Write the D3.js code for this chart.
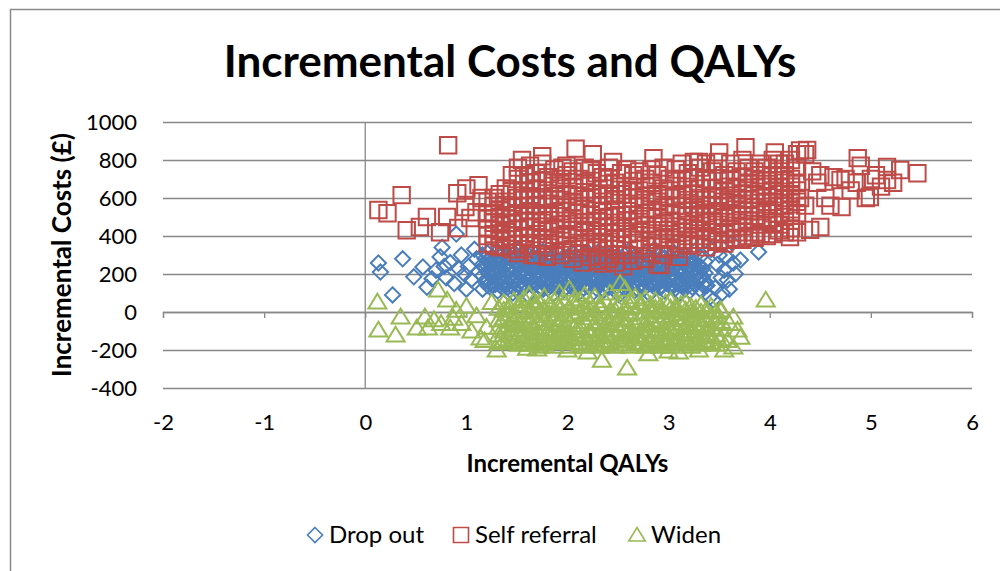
<!DOCTYPE html>
<html>
<head>
<meta charset="utf-8">
<style>
  body { margin: 0; background: #fff; }
  text { font-family: Lato, "Open Sans", sans-serif; fill: #000; }
  .grid line { stroke: #888; stroke-width: 1.3; }
  .grid path { display: none; }
  .grid text { font-size: 22px; }
  .xlab path, .xlab line { display: none; }
  .xlab text { font-size: 22px; }
  .zero path, .zero line { stroke: #888; stroke-width: 1.3; }
</style>
</head>
<body>
<svg id="chart"></svg>
<script src="https://d3js.org/d3.v7.min.js"></script>
<script>
// axis ticks
var xTicks = [-2, -1, 0, 1, 2, 3, 4, 5, 6]
var yTicks = [-400, -200, 0, 200, 400, 600, 800, 1000]
var seriesNames = ["Drop out", "Self referral", "Widen"]

// each row: x, then one or more y values
var dropOut = [
  [0.13, 258], [0.15, 210], [0.27, 90], [0.37, 280], [0.48, 185], [0.57, 237], [0.61, 130],
  [0.66, 175], [0.7, 220], [0.74, 290], [0.76, 340], [0.78, 240], [0.8, 180], [0.84, 260],
  [0.88, 150], [0.9, 410], [0.92, 230], [0.95, 300], [0.98, 200], [1.0, 120], [1.02, 240],
  [1.05, 170], [1.08, 330], [1.1, 280], [1.12, 210],
  [1.16, 250, 190, 120, 300],
  [1.185, 230, 160, 280],
  [1.21, 310, 210, 160, 270, 140],
  [1.235, 195, 250, 130],
  [1.26, 230, 140, 290, 190, 255],
  [1.285, 270, 145, 215],
  [1.31, 260, 175, 110, 320, 220, 150],
  [1.335, 180, 230, 290],
  [1.36, 200, 280, 150, 240, 125, 305],
  [1.385, 245, 160, 200],
  [1.41, 300, 130, 215, 255, 180, 105],
  [1.435, 140, 225, 285],
  [1.46, 165, 235, 100, 275, 205, 320],
  [1.485, 260, 190, 120],
  [1.51, 290, 205, 145, 250, 330, 175],
  [1.535, 215, 275, 160],
  [1.56, 185, 120, 265, 225, 300, 150],
  [1.585, 135, 245, 195],
  [1.61, 240, 160, 300, 200, 90, 270],
  [1.635, 280, 180, 225],
  [1.66, 275, 190, 135, 315, 225, 160],
  [1.685, 205, 150, 260],
  [1.71, 215, 255, 110, 170, 290, 240],
  [1.735, 240, 125, 185],
  [1.76, 195, 240, 150, 320, 265, 120],
  [1.785, 160, 215, 280],
  [1.81, 265, 180, 125, 230, 300, 205],
  [1.835, 235, 140, 195],
  [1.86, 210, 160, 280, 95, 245, 185],
  [1.885, 270, 210, 130],
  [1.91, 245, 190, 135, 310, 225, 270],
  [1.935, 150, 240, 185],
  [1.96, 170, 270, 205, 115, 290, 235],
  [1.985, 225, 130, 265],
  [2.01, 295, 230, 150, 185, 335, 260],
  [2.035, 180, 275, 215],
  [2.06, 260, 200, 120, 175, 305, 235],
  [2.085, 245, 160, 135],
  [2.11, 220, 285, 140, 245, 100, 190],
  [2.135, 200, 265, 150],
  [2.16, 190, 305, 165, 230, 265, 125],
  [2.185, 140, 215, 280],
  [2.21, 270, 210, 130, 180, 250, 310],
  [2.235, 255, 175, 220],
  [2.26, 155, 235, 290, 105, 200, 265],
  [2.285, 185, 240, 125],
  [2.31, 200, 260, 145, 320, 180, 230],
  [2.335, 270, 155, 205],
  [2.36, 240, 170, 115, 280, 215, 300],
  [2.385, 135, 230, 180],
  [2.41, 215, 295, 160, 190, 130, 255],
  [2.435, 205, 265, 150],
  [2.46, 250, 185, 230, 310, 145, 275],
  [2.485, 280, 195, 135],
  [2.51, 170, 265, 120, 210, 90, 240],
  [2.535, 160, 245, 215],
  [2.56, 300, 225, 150, 195, 260, 125],
  [2.585, 230, 175, 270],
  [2.61, 240, 180, 275, 135, 325, 210],
  [2.635, 150, 205, 250],
  [2.66, 205, 160, 255, 110, 290, 230],
  [2.685, 265, 125, 230],
  [2.71, 285, 220, 190, 140, 250, 170],
  [2.735, 190, 255, 150],
  [2.76, 175, 235, 305, 125, 265, 200],
  [2.785, 240, 170, 210],
  [2.81, 260, 200, 150, 290, 95, 230],
  [2.835, 145, 275, 190],
  [2.86, 215, 170, 245, 330, 130, 280],
  [2.885, 215, 160, 255],
  [2.91, 185, 270, 130, 230, 300, 155],
  [2.935, 180, 235, 135],
  [2.96, 250, 160, 205, 110, 285, 225],
  [2.985, 270, 150, 210],
  [3.01, 290, 225, 175, 140, 260, 195],
  [3.035, 230, 185, 130],
  [3.06, 195, 245, 310, 120, 270, 165],
  [3.085, 150, 215, 285],
  [3.11, 270, 215, 160, 100, 235, 300],
  [3.135, 260, 195, 140],
  [3.16, 180, 250, 295, 140, 215, 120],
  [3.185, 185, 240, 155],
  [3.21, 230, 165, 205, 275, 110, 250],
  [3.235, 215, 130, 270],
  [3.26, 190, 260, 145, 320, 225],
  [3.285, 165, 250, 200],
  [3.31, 240, 175, 215, 120, 290],
  [3.335, 230, 185, 145],
  [3.36, 205, 160, 265, 135],
  [3.38, 140], [3.41, 79], [3.42, 330], [3.44, 63], [3.46, 126], [3.48, 250], [3.5, 300],
  [3.52, 180], [3.53, 100], [3.55, 220], [3.57, 290], [3.58, 168], [3.6, 120], [3.63, 363],
  [3.64, 258], [3.66, 200], [3.71, 274], [3.89, 316]
]

var selfReferral = [
  [0.13, 537], [0.22, 520], [0.36, 615], [0.41, 430], [0.54, 447], [0.61, 500], [0.74, 420],
  [0.81, 500], [0.82, 878], [0.91, 625], [0.92, 442], [0.99, 553], [1.0, 650], [1.04, 495],
  [1.1, 525], [1.12, 668], [1.15, 600],
  [1.21, 360, 520, 440, 580, 400, 490],
  [1.27, 470, 350, 560, 410, 600, 520],
  [1.33, 390, 540, 460, 340, 500, 620, 430],
  [1.39, 580, 420, 350, 510, 470, 650, 380],
  [1.45, 330, 470, 640, 400, 550, 720, 490],
  [1.51, 700, 360, 520, 440, 600, 310, 760],
  [1.57, 480, 640, 330, 560, 400, 720, 590],
  [1.63, 350, 610, 450, 770, 530, 680, 390],
  [1.69, 560, 410, 730, 300, 480, 650, 600],
  [1.75, 430, 690, 520, 360, 780, 590, 470],
  [1.81, 640, 340, 570, 450, 710, 390, 510],
  [1.87, 380, 520, 750, 610, 440, 320, 680],
  [1.93, 590, 460, 300, 700, 530, 650, 400],
  [1.99, 720, 410, 550, 350, 620, 480, 770],
  [2.05, 330, 660, 490, 580, 280, 740, 430],
  [2.11, 520, 390, 700, 450, 610, 310, 560],
  [2.17, 680, 470, 360, 760, 540, 420, 630],
  [2.23, 290, 600, 510, 430, 690, 370, 750],
  [2.29, 560, 730, 340, 480, 620, 270, 410],
  [2.35, 450, 360, 650, 530, 710, 580, 300],
  [2.41, 700, 500, 420, 280, 610, 760, 370],
  [2.47, 330, 590, 470, 680, 390, 540, 260],
  [2.53, 620, 440, 730, 350, 510, 660, 300],
  [2.59, 480, 300, 570, 750, 410, 640, 530],
  [2.65, 380, 690, 510, 450, 270, 600, 720],
  [2.71, 560, 420, 640, 330, 740, 490, 380],
  [2.77, 700, 350, 460, 590, 520, 280, 660],
  [2.83, 430, 610, 310, 680, 540, 400, 750],
  [2.89, 250, 500, 720, 380, 620, 450, 580],
  [2.95, 650, 390, 550, 470, 300, 760, 430],
  [3.01, 520, 700, 340, 600, 410, 640, 480],
  [3.07, 380, 560, 750, 450, 690, 330, 610],
  [3.13, 620, 420, 510, 780, 360, 560, 700],
  [3.19, 460, 660, 350, 590, 730, 400, 530],
  [3.25, 710, 380, 620, 480, 550, 790, 440],
  [3.31, 540, 760, 430, 360, 650, 500, 600],
  [3.37, 400, 590, 700, 520, 340, 780, 470],
  [3.43, 650, 480, 560, 420, 740, 610, 380],
  [3.49, 530, 370, 690, 600, 460, 790, 420],
  [3.55, 720, 560, 410, 640, 500, 360, 580],
  [3.61, 440, 660, 780, 380, 590, 520, 700],
  [3.67, 600, 420, 540, 740, 470, 650, 390],
  [3.73, 510, 710, 380, 620, 800, 450, 570],
  [3.79, 680, 480, 590, 400, 760, 530, 640],
  [3.85, 420, 620, 740, 550, 480, 700, 390],
  [3.91, 600, 780, 460, 660, 530, 410, 720],
  [3.97, 540, 400, 690, 610, 760, 480, 580],
  [4.03, 720, 580, 470, 640, 410, 800, 520],
  [4.09, 460, 660, 560, 740, 620, 430, 780],
  [4.15, 600, 780, 500, 680, 420, 560, 720],
  [4.21, 540, 440, 700, 620, 800, 480, 660],
  [4.27, 680, 580, 760, 420, 640, 830, 520],
  [1.55, 800], [1.65, 300], [1.75, 820], [1.8, 290], [1.95, 760], [2.08, 860], [2.15, 260],
  [2.25, 830], [2.35, 255], [2.45, 790], [2.55, 240], [2.85, 810], [2.92, 247], [3.1, 290],
  [3.3, 790], [3.5, 840], [3.76, 868], [4.05, 840], [4.2, 395],
  [4.3, 850, 600], [4.35, 830, 560], [4.37, 853], [4.4, 432], [4.42, 740], [4.47, 680],
  [4.5, 447, 720], [4.55, 600], [4.6, 560], [4.63, 710], [4.7, 695], [4.71, 553], [4.75, 700],
  [4.8, 640], [4.86, 680], [4.87, 810], [4.9, 770], [4.95, 600], [4.99, 605], [5.0, 700],
  [5.05, 720], [5.1, 660], [5.16, 763, 695], [5.22, 680], [5.29, 747], [5.46, 730]
]

var widen = [
  [0.12, 53], [0.13, -95], [0.3, -121], [0.35, -26], [0.51, -84], [0.59, -26], [0.62, -84],
  [0.68, -40], [0.72, 116], [0.75, -60], [0.81, 63], [0.84, -84], [0.87, -32], [0.9, 10],
  [0.95, -60], [1.0, 30], [1.05, -100], [1.1, -20], [1.14, -137], [1.18, -150], [1.2, -80],
  [1.25, 50], [1.3, -200],
  [1.32, -40, -120, 20, -80, -160],
  [1.37, 10, -100, -30, -150, 50],
  [1.42, -70, -140, 30, -10, -110],
  [1.47, -20, -160, 60, -90, -50, -130],
  [1.52, 40, -60, -120, -170, 0, -90],
  [1.57, -110, -30, 70, -150, -70, 20],
  [1.62, 10, -140, -50, 90, -100, -170],
  [1.67, -80, 30, -130, -20, -160, 60],
  [1.72, -150, -60, 50, -110, 0, -180],
  [1.77, 20, -90, -170, -40, 80, -130],
  [1.82, -120, 40, -60, -160, -10, -90],
  [1.87, -30, -140, 60, -100, -180, 10],
  [1.92, 100, -70, -150, 30, -120, -40],
  [1.97, -160, -10, -90, 50, -130, -60],
  [2.02, 20, -110, -180, 120, -50, -140],
  [2.07, -80, 40, -160, -20, -120, 70],
  [2.12, -140, 0, -70, -170, 60, -100],
  [2.17, 30, -130, -50, -180, 90, -10],
  [2.22, -100, -160, 50, -30, -120, 10],
  [2.27, -60, 80, -140, -10, -170, -90],
  [2.32, 40, -120, -180, -50, 20, -150],
  [2.37, -150, -30, 60, -110, -70, -170],
  [2.42, 0, -90, -160, 100, -40, -130],
  [2.47, -120, 50, -60, -180, -20, 10],
  [2.52, 150, -140, -30, -100, 40, -170],
  [2.57, -70, 20, -150, 120, -110, -40],
  [2.62, -10, -180, 60, -90, -130, 30],
  [2.67, -160, -50, 80, -120, 0, -80],
  [2.72, 30, -100, -170, -30, 50, -140],
  [2.77, -130, 0, -60, -180, 70, -100],
  [2.82, -40, 40, -150, -90, 10, -170],
  [2.87, 60, -120, -20, -160, -70, 20],
  [2.92, -110, 30, -180, -50, -140, 0],
  [2.97, -60, -150, 50, -100, -20, -170],
  [3.02, 20, -90, -140, 60, -40, -180],
  [3.07, -130, -30, 30, -160, -80, 10],
  [3.12, -10, -170, -110, 40, -60, -140],
  [3.17, -150, 10, -70, -120, 50, -30],
  [3.22, 30, -100, -180, -40, -140, 0],
  [3.27, -80, -160, 20, -120, -20, -60],
  [3.32, -130, 0, -70, -170, 40],
  [3.37, -40, -110, 10, -150, -90],
  [3.42, -160, -20, -80, 30, -130],
  [3.47, 0, -120, -60, -170, -30],
  [3.52, -90, -140, 10, -50],
  [1.6, -190], [1.7, -195], [2.0, -200], [2.2, -210], [2.34, -253], [2.59, -295], [2.8, -220],
  [3.0, -205], [3.1, -210], [3.3, -200], [3.51, 11], [3.55, -200], [3.58, -150], [3.6, -60],
  [3.64, -26, -184], [3.68, -95], [3.71, -132], [3.96, 63]
]

var colors = ["#4A7EBB", "#BE4B48", "#98B954"]

// rows -> points
function toPoints(rows) {
  return rows.flatMap(function(r) {
    return r.slice(1).map(function(y) { return {x: r[0], y: y} })
  })
}

// marker shapes (Excel style, hollow)
var shapes = [
  function(s) { return "M0," + (-s) + "L" + s + ",0L0," + s + "L" + (-s) + ",0Z" },
  function(s) { return "M" + (-s) + "," + (-s) + "H" + s + "V" + s + "H" + (-s) + "Z" },
  function(s) { return "M0," + (-s) + "L" + (s * 1.1) + "," + (s * 0.8) + "H" + (-s * 1.1) + "Z" }
]
var markerSize = [7.6, 8.2, 8.2]

var screen = {width: 1000, height: 571}
var plot = {left: 163, right: 972, top: 122, bottom: 388}

var svg = d3.select("#chart")
            .attr("width", screen.width)
            .attr("height", screen.height)

// outer chart frame
svg.append("path")
   .attr("d", "M10.5," + screen.height + "V9.5H" + screen.width)
   .attr("fill", "none")
   .attr("stroke", "#8a8a8a")
   .attr("stroke-width", 1.5)

var xScale = d3.scaleLinear()
               .domain([xTicks[0], xTicks[xTicks.length - 1]])
               .range([plot.left, plot.right])
var yScale = d3.scaleLinear()
               .domain([yTicks[0], yTicks[yTicks.length - 1]])
               .range([plot.bottom, plot.top])

// gridlines + y labels
svg.append("g")
   .attr("class", "grid")
   .attr("transform", "translate(" + plot.left + ",0)")
   .call(d3.axisLeft(yScale)
           .tickValues(yTicks)
           .tickSizeInner(-(plot.right - plot.left))
           .tickSizeOuter(0)
           .tickPadding(26)
           .tickFormat(function(d) { return String(d) }))
   .selectAll("text").attr("fill", "#000")

// x labels at the bottom
svg.append("g")
   .attr("class", "xlab")
   .attr("transform", "translate(0," + plot.bottom + ")")
   .call(d3.axisBottom(xScale)
           .tickValues(xTicks)
           .tickSize(0)
           .tickPadding(26)
           .tickFormat(function(d) { return String(d) }))
   .selectAll("text").attr("fill", "#000")

// horizontal axis through 0 with tick marks
svg.append("g")
   .attr("class", "zero")
   .attr("transform", "translate(0," + yScale(0) + ")")
   .call(d3.axisBottom(xScale).tickValues(xTicks).tickSize(6).tickFormat(""))

// vertical axis through 0
svg.append("line")
   .attr("x1", xScale(0)).attr("x2", xScale(0))
   .attr("y1", yScale(yTicks[0])).attr("y2", yScale(yTicks[yTicks.length - 1]))
   .attr("stroke", "#888")
   .attr("stroke-width", 1.3)

// series
var allSeries = [dropOut, selfReferral, widen]
allSeries.forEach(function(rows, i) {
  svg.append("g")
     .selectAll("path")
     .data(toPoints(rows))
     .enter()
     .append("path")
     .attr("transform", function(d) { return "translate(" + xScale(d.x) + "," + yScale(d.y) + ")" })
     .attr("d", shapes[i](markerSize[i]))
     .attr("fill", "none")
     .attr("stroke", colors[i])
     .attr("stroke-width", 2)
})

// title
svg.append("text")
   .attr("x", 510).attr("y", 77)
   .attr("text-anchor", "middle")
   .attr("font-size", 44)
   .attr("font-weight", "bold")
   .text("Incremental Costs and QALYs")

// axis titles
svg.append("text")
   .attr("x", (plot.left + plot.right) / 2).attr("y", 472)
   .attr("text-anchor", "middle")
   .attr("font-size", 24)
   .attr("font-weight", "bold")
   .text("Incremental QALYs")
svg.append("text")
   .attr("transform", "translate(71,255) rotate(-90)")
   .attr("text-anchor", "middle")
   .attr("font-size", 26)
   .attr("font-weight", "bold")
   .text("Incremental Costs (£)")

// legend
var legendX = [315, 461, 637]
var legend = svg.append("g")
                .selectAll("g")
                .data(seriesNames)
                .enter()
                .append("g")
                .attr("transform", function(d, i) { return "translate(" + legendX[i] + ",535)" })
legend.append("path")
      .attr("d", function(d, i) { return shapes[i](7.5) })
      .attr("fill", "none")
      .attr("stroke", function(d, i) { return colors[i] })
      .attr("stroke-width", 1.6)
legend.append("text")
      .attr("x", 14).attr("y", 8)
      .attr("font-size", 24)
      .text(function(d) { return d })
</script>
</body>
</html>
